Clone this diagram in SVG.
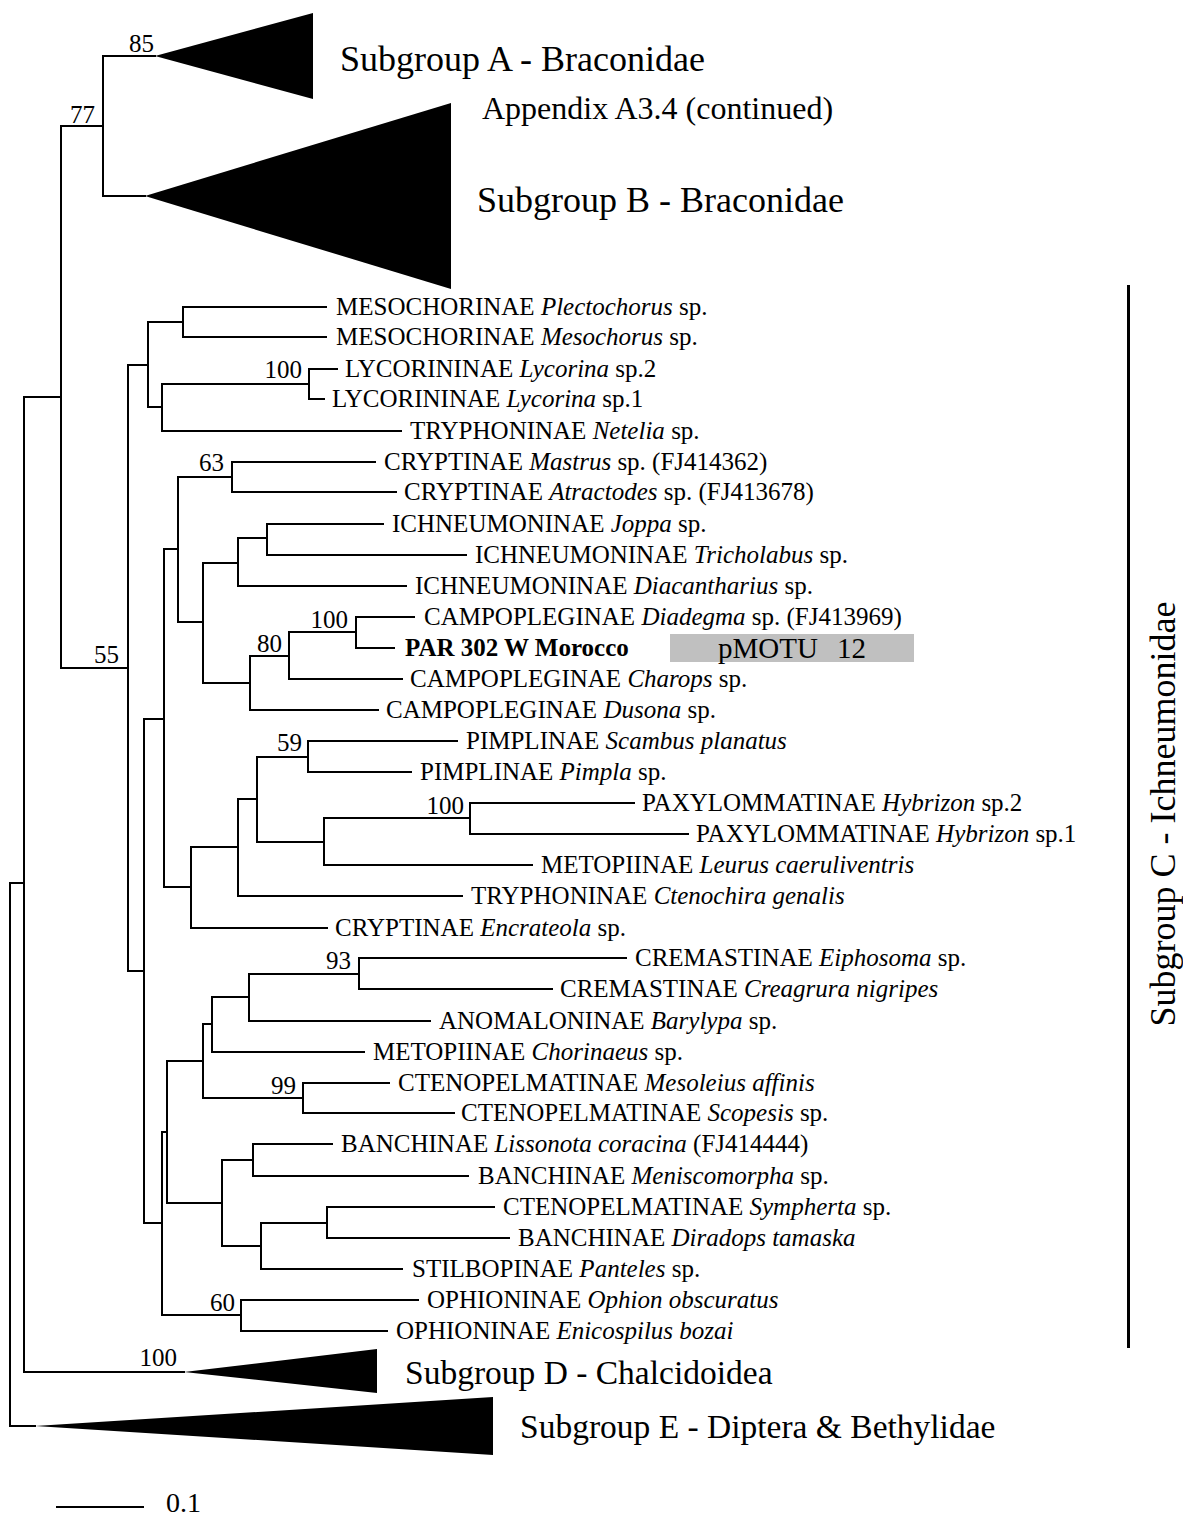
<svg xmlns="http://www.w3.org/2000/svg" width="1183" height="1518" viewBox="0 0 1183 1518">
<style>
.br{fill:none;stroke:#000;stroke-width:2;stroke-linecap:square}
.lf{font-family:"Liberation Serif","Times New Roman",serif;font-size:25px;fill:#000}
.bs{font-family:"Liberation Serif","Times New Roman",serif;font-size:25px;fill:#000;text-anchor:end}
.sg{font-family:"Liberation Serif","Times New Roman",serif;fill:#000}
.it{font-style:italic}
.tri{fill:#000}
</style>
<rect width="1183" height="1518" fill="#fff"/>
<g id="connectors">
<path class="br" d="M10,883V1426H35M10,883H24M24,397V1372H184M24,397H61M61,126V668H128M61,126H103M103,56V196M103,56H155M103,196H145
M128,365V971M128,365H148M148,322V407M148,322H183M183,307V337M183,307H326M183,337H326M148,407H162M162,384V431M162,384H309M309,369V399M309,369H337M309,399H324M162,431H401
M128,971H144M144,719V1223M144,719H164M164,549V887M164,549H178M178,477V622M178,477H232M232,462V492M232,462H375M232,492H396
M178,622H203M203,563V683M203,563H238M238,538V586M238,538H267M267,524V555M267,524H383M267,555H466M238,586H406
M203,683H250M250,656V710M250,656H289M289,632V679M289,632H356M356,617V648M356,617H414M356,648H394M289,679H402M250,710H378
M164,887H191M191,847V928M191,847H238M238,799V896M238,799H257M257,757V842M257,757H308M308,741V772M308,741H457M308,772H411M257,842H324M324,818V865M324,818H470M470,803V834M470,803H634M470,834H688M324,865H532M238,896H462M191,928H327
M144,1223H162M162,1132V1315M162,1132H167M167,1061V1203M167,1061H203M203,1024V1098M203,1024H212M212,997V1052M212,997H249M249,974V1021M249,974H359M359,958V989M359,958H626M359,989H552M249,1021H430M212,1052H364
M203,1098H303M303,1083V1113M303,1083H389M303,1113H454
M167,1203H222M222,1160V1246M222,1160H253M253,1144V1176M253,1144H332M253,1176H468M222,1246H261M261,1223V1269M261,1223H327M327,1207V1238M327,1207H494M327,1238H509M261,1269H402
M162,1315H241M241,1300V1331M241,1300H418M241,1331H387"/>
<path class="br" d="M57,1507H143"/>
</g>
<g id="bootstrap">
<text class="bs" x="154" y="52">85</text>
<text class="bs" x="95" y="123">77</text>
<text class="bs" x="302" y="378">100</text>
<text class="bs" x="119" y="663">55</text>
<text class="bs" x="224" y="471">63</text>
<text class="bs" x="348" y="628">100</text>
<text class="bs" x="282" y="652">80</text>
<text class="bs" x="302" y="751">59</text>
<text class="bs" x="464" y="814">100</text>
<text class="bs" x="351" y="969">93</text>
<text class="bs" x="296" y="1094">99</text>
<text class="bs" x="235" y="1311">60</text>
<text class="bs" x="177" y="1366">100</text>
</g>
<g id="subgroupA"><polygon class="tri" points="155,56 313,13 313,99"/><text class="sg" x="340" y="71" font-size="36">Subgroup A - Braconidae</text></g>
<g id="appendix"><text class="sg" x="482" y="119" font-size="32">Appendix A3.4 (continued)</text></g>
<g id="subgroupB"><polygon class="tri" points="145,196 451,103 451,289"/><text class="sg" x="477" y="212" font-size="36">Subgroup B - Braconidae</text></g>
<g id="subgroupD"><polygon class="tri" points="184,1372 377,1349 377,1393"/><text class="sg" x="405" y="1384" font-size="33.5">Subgroup D - Chalcidoidea</text></g>
<g id="subgroupE"><polygon class="tri" points="35,1426 493,1397 493,1455"/><text class="sg" x="520" y="1438" font-size="33.5">Subgroup E - Diptera &amp; Bethylidae</text></g>
<g id="subgroupC"><rect x="1127" y="285" width="3" height="1063" fill="#000"/><text class="sg" font-size="36" text-anchor="middle" transform="translate(1175,814) rotate(-90)">Subgroup C - Ichneumonidae</text></g>
<g id="scale"><text class="sg" x="166" y="1512" font-size="28">0.1</text></g>
<g id="leaves">
<g id="l1"><text class="lf" x="336" y="315">MESOCHORINAE <tspan class="it">Plectochorus</tspan> sp.</text></g>
<g id="l2"><text class="lf" x="336" y="345">MESOCHORINAE <tspan class="it">Mesochorus</tspan> sp.</text></g>
<g id="l3"><text class="lf" x="345" y="377">LYCORININAE <tspan class="it">Lycorina</tspan> sp.2</text></g>
<g id="l4"><text class="lf" x="332" y="407">LYCORININAE <tspan class="it">Lycorina</tspan> sp.1</text></g>
<g id="l5"><text class="lf" x="410" y="439">TRYPHONINAE <tspan class="it">Netelia</tspan> sp.</text></g>
<g id="l6"><text class="lf" x="384" y="470">CRYPTINAE <tspan class="it">Mastrus</tspan> sp. (FJ414362)</text></g>
<g id="l7"><text class="lf" x="404" y="500">CRYPTINAE <tspan class="it">Atractodes</tspan> sp. (FJ413678)</text></g>
<g id="l8"><text class="lf" x="392" y="532">ICHNEUMONINAE <tspan class="it">Joppa</tspan> sp.</text></g>
<g id="l9"><text class="lf" x="475" y="563">ICHNEUMONINAE <tspan class="it">Tricholabus</tspan> sp.</text></g>
<g id="l10"><text class="lf" x="415" y="594">ICHNEUMONINAE <tspan class="it">Diacantharius</tspan> sp.</text></g>
<g id="l11"><text class="lf" x="424" y="625">CAMPOPLEGINAE <tspan class="it">Diadegma</tspan> sp. (FJ413969)</text></g>
<g id="l12"><text class="lf" x="405" y="656" font-weight="bold">PAR 302 W Morocco</text><rect x="670" y="634" width="244" height="28" fill="#c0c0c0"/><text class="sg" x="718" y="658" font-size="29">pMOTU</text><text class="sg" x="866" y="658" font-size="29" text-anchor="end">12</text></g>
<g id="l13"><text class="lf" x="410" y="687">CAMPOPLEGINAE <tspan class="it">Charops</tspan> sp.</text></g>
<g id="l14"><text class="lf" x="386" y="718">CAMPOPLEGINAE <tspan class="it">Dusona</tspan> sp.</text></g>
<g id="l15"><text class="lf" x="466" y="749">PIMPLINAE <tspan class="it">Scambus planatus</tspan></text></g>
<g id="l16"><text class="lf" x="420" y="780">PIMPLINAE <tspan class="it">Pimpla</tspan> sp.</text></g>
<g id="l17"><text class="lf" x="642" y="811">PAXYLOMMATINAE <tspan class="it">Hybrizon</tspan> sp.2</text></g>
<g id="l18"><text class="lf" x="696" y="842">PAXYLOMMATINAE <tspan class="it">Hybrizon</tspan> sp.1</text></g>
<g id="l19"><text class="lf" x="541" y="873">METOPIINAE <tspan class="it">Leurus caeruliventris</tspan></text></g>
<g id="l20"><text class="lf" x="471" y="904">TRYPHONINAE <tspan class="it">Ctenochira genalis</tspan></text></g>
<g id="l21"><text class="lf" x="335" y="936">CRYPTINAE <tspan class="it">Encrateola</tspan> sp.</text></g>
<g id="l22"><text class="lf" x="635" y="966">CREMASTINAE <tspan class="it">Eiphosoma</tspan> sp.</text></g>
<g id="l23"><text class="lf" x="560" y="997">CREMASTINAE <tspan class="it">Creagrura nigripes</tspan></text></g>
<g id="l24"><text class="lf" x="439" y="1029">ANOMALONINAE <tspan class="it">Barylypa</tspan> sp.</text></g>
<g id="l25"><text class="lf" x="373" y="1060">METOPIINAE <tspan class="it">Chorinaeus</tspan> sp.</text></g>
<g id="l26"><text class="lf" x="398" y="1091">CTENOPELMATINAE <tspan class="it">Mesoleius affinis</tspan></text></g>
<g id="l27"><text class="lf" x="461" y="1121">CTENOPELMATINAE <tspan class="it">Scopesis</tspan> sp.</text></g>
<g id="l28"><text class="lf" x="341" y="1152">BANCHINAE <tspan class="it">Lissonota coracina</tspan> (FJ414444)</text></g>
<g id="l29"><text class="lf" x="478" y="1184">BANCHINAE <tspan class="it">Meniscomorpha</tspan> sp.</text></g>
<g id="l30"><text class="lf" x="503" y="1215">CTENOPELMATINAE <tspan class="it">Sympherta</tspan> sp.</text></g>
<g id="l31"><text class="lf" x="518" y="1246">BANCHINAE <tspan class="it">Diradops tamaska</tspan></text></g>
<g id="l32"><text class="lf" x="412" y="1277">STILBOPINAE <tspan class="it">Panteles</tspan> sp.</text></g>
<g id="l33"><text class="lf" x="427" y="1308">OPHIONINAE <tspan class="it">Ophion obscuratus</tspan></text></g>
<g id="l34"><text class="lf" x="396" y="1339">OPHIONINAE <tspan class="it">Enicospilus bozai</tspan></text></g>
</g>
</svg>
